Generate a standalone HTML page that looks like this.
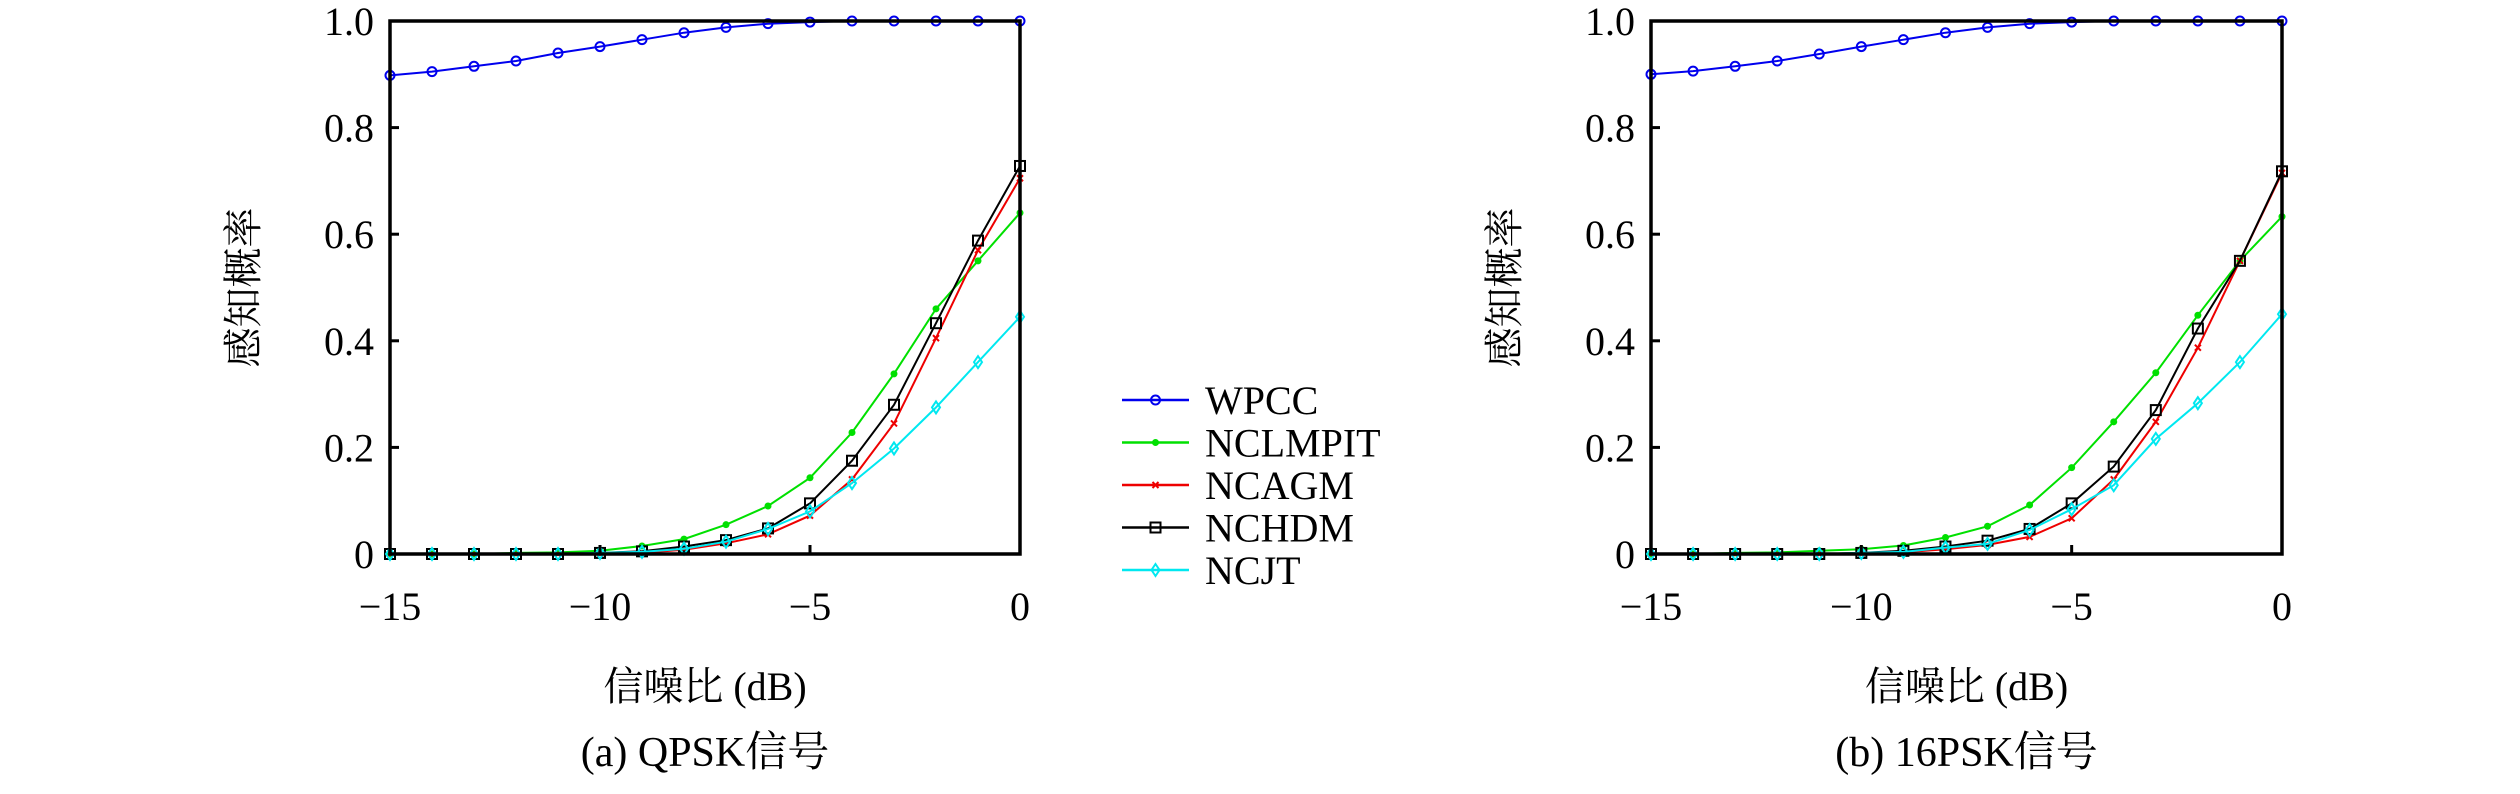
<!DOCTYPE html>
<html><head><meta charset="utf-8"><style>
html,body{margin:0;padding:0;background:#fff;}
svg{display:block;}
</style></head><body>
<svg id="s" width="2520" height="794" xmlns="http://www.w3.org/2000/svg"></svg>
<script>
const S=document.getElementById('s');let h='';
const FF=`font-family="Liberation Serif, Noto Serif CJK SC, serif"`;
const xs=[];for(let i=-15;i<=0;i++)xs.push(i);
const A={
blue:[0.898,0.905,0.915,0.925,0.94,0.952,0.965,0.978,0.988,0.995,0.998,1,1,1,1,1],
green:[0,0,0,0.002,0.003,0.006,0.015,0.028,0.055,0.09,0.143,0.228,0.338,0.46,0.55,0.64],
red:[0,0,0,0,0,0,0.002,0.008,0.02,0.037,0.072,0.14,0.245,0.405,0.57,0.705],
black:[0,0,0,0,0,0.002,0.005,0.014,0.026,0.048,0.095,0.175,0.28,0.433,0.588,0.728],
cyan:[0,0,0,0,0,0.002,0.004,0.01,0.023,0.047,0.08,0.133,0.198,0.275,0.36,0.445]};
const B={
blue:[0.9,0.906,0.915,0.925,0.938,0.952,0.965,0.978,0.988,0.995,0.998,1,1,1,1,1],
green:[0,0,0.002,0.003,0.006,0.009,0.016,0.031,0.052,0.092,0.162,0.248,0.34,0.448,0.55,0.633],
red:[0,0,0,0,0,0,0.003,0.009,0.017,0.032,0.067,0.14,0.248,0.387,0.55,0.715],
black:[0,0,0,0,0,0.002,0.006,0.014,0.025,0.047,0.095,0.164,0.27,0.423,0.55,0.718],
cyan:[0,0,0,0,0,0.002,0.004,0.012,0.019,0.045,0.084,0.129,0.216,0.283,0.36,0.45]};
const col={blue:'#0000ee',green:'#00e000',red:'#ee0000',black:'#000',cyan:'#00e8f0'};
function mk(type,x,y,c){
 if(type==='blue')return `<circle cx="${x}" cy="${y}" r="4.5" fill="none" stroke="${c}" stroke-width="2"/>`;
 if(type==='green')return `<circle cx="${x}" cy="${y}" r="3.5" fill="${c}"/>`;
 if(type==='red')return `<path d="M${x-3} ${y-3}L${x+3} ${y+3}M${x-3} ${y+3}L${x+3} ${y-3}" stroke="${c}" stroke-width="2"/>`;
 if(type==='black')return `<rect x="${x-5}" y="${y-5}" width="10" height="10" fill="none" stroke="${c}" stroke-width="2"/>`;
 return `<path d="M${x} ${y-6}L${x+4} ${y}L${x} ${y+6}L${x-4} ${y}Z" fill="none" stroke="${c}" stroke-width="2"/>`;
}
function T(x,y,s,txt,anchor,extra){return `<text ${FF} x="${x}" y="${y}" font-size="${s}" text-anchor="${anchor||'start'}" ${extra||''}>${txt}</text>`;}
function plot(x0,x1,y0,y1,D,cap){
 const X=v=>x0+(v+15)/15*(x1-x0), Y=v=>y1-v*(y1-y0);
 for(const k of ['blue','green','red','black','cyan']){
  const p=D[k].map((v,i)=>X(xs[i]).toFixed(1)+','+Y(v).toFixed(1)).join(' ');
  h+=`<polyline points="${p}" fill="none" stroke="${col[k]}" stroke-width="2"/>`;
  D[k].forEach((v,i)=>h+=mk(k,X(xs[i]),Y(v),col[k]));
 }
 h+=`<rect x="${x0}" y="${y0}" width="${x1-x0}" height="${y1-y0}" fill="none" stroke="#000" stroke-width="3.5"/>`;
 [0,0.2,0.4,0.6,0.8,1].forEach(v=>{const y=Y(v);h+=`<line x1="${x0}" x2="${x0+9}" y1="${y}" y2="${y}" stroke="#000" stroke-width="3"/>`;
  h+=T(x0-16,y+14,40,v===0?'0':v.toFixed(1),'end');});
 [-15,-10,-5,0].forEach(v=>{const x=X(v);h+=`<line x1="${x}" x2="${x}" y1="${y1}" y2="${y1-9}" stroke="#000" stroke-width="3"/>`;
  h+=T(x,y1+66,40,v<0?'\u2212'+(-v):'0','middle');});
 h+=`<text ${FF} transform="translate(${x0-133},${(y0+y1)/2}) rotate(-90)" font-size="40" text-anchor="middle">感知概率</text>`;
 h+=T((x0+x1)/2,y1+146,40,'信噪比 (dB)','middle');
 h+=T((x0+x1)/2,y1+212,42,cap,'middle');
}
plot(390,1020,21,554,A,'(a) QPSK信号');
plot(1651,2282,21,554,B,'(b) 16PSK信号');
const L=[['blue','WPCC'],['green','NCLMPIT'],['red','NCAGM'],['black','NCHDM'],['cyan','NCJT']];
L.forEach((l,i)=>{const y=400+i*42.5;h+=`<line x1="1122" x2="1189" y1="${y}" y2="${y}" stroke="${col[l[0]]}" stroke-width="2.5"/>`+mk(l[0],1155.5,y,col[l[0]]);
 h+=T(1205,y+14,40,l[1]);});
S.innerHTML=h;
</script>
</body></html>
